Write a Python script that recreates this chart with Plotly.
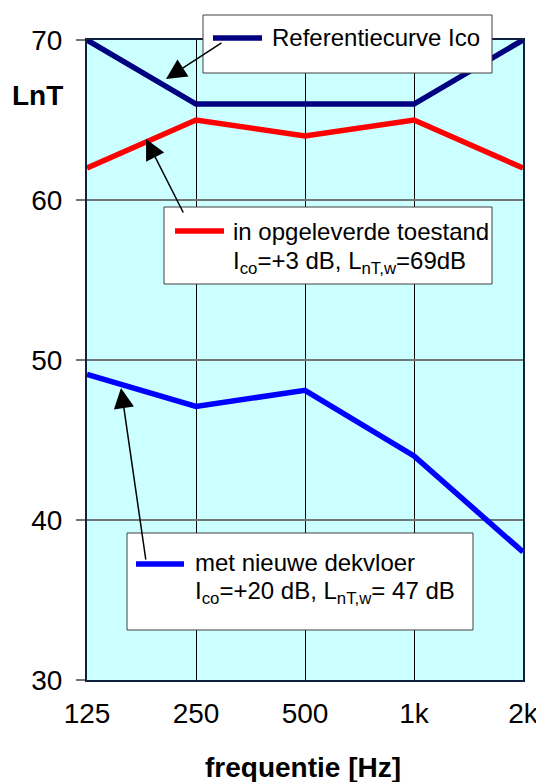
import plotly.graph_objects as go

freq_labels = ["125", "250", "500", "1k", "2k"]
ref_curve = [70, 66, 66, 66, 70]
opgeleverd = [62, 65, 64, 65, 62]
dekvloer = [49.1, 47.1, 48.1, 44.0, 38.0]

series_names = ["Referentiecurve Ico", "in opgeleverde toestand", "met nieuwe dekvloer"]
series_sub = [None,
              "I<sub>co</sub>=+3 dB, L<sub>nT,w</sub>=69dB",
              "I<sub>co</sub>=+20 dB, L<sub>nT,w</sub>= 47 dB"]
colors = ["#000080", "#FF0000", "#0000FF"]

FONT = "Liberation Sans, Arial, sans-serif"

# page has an 8px body margin; figure is placed at (8, 8)
OFF = 8
W, H = 544 - OFF, 782 - OFF
# plot-area in page pixels
L, R, T, B = 87, 523, 40, 680
def px(x):
    return (x - L) / (R - L)
def py(y):
    return (B - y) / (B - T)

fig = go.Figure()
for vals, c in zip([ref_curve, opgeleverd, dekvloer], colors):
    fig.add_trace(go.Scatter(x=freq_labels, y=vals, mode="lines",
                             line=dict(color=c, width=5.5), showlegend=False,
                             hoverinfo="skip"))

shapes = []
annotations = []

boxes = [
    ((203, 492, 15, 73), (213, 262, 38), 270, 38, None),
    ((164, 492, 207, 284), (175, 224, 231), 231, 231, 262),
    ((127, 473, 533, 630), (136, 184, 564), 193, 562, 592),
]
for i, (box, ln, tx, ty1, ty2) in enumerate(boxes):
    shapes.append(dict(type="rect", xref="paper", yref="paper",
                       x0=px(box[0]), x1=px(box[1]), y0=py(box[3]), y1=py(box[2]),
                       fillcolor="white", line=dict(color="#404040", width=1),
                       layer="above"))
    shapes.append(dict(type="line", xref="paper", yref="paper",
                       x0=px(ln[0]), x1=px(ln[1]), y0=py(ln[2]), y1=py(ln[2]),
                       line=dict(color=colors[i], width=5.5), layer="above"))
    annotations.append(dict(text=series_names[i], xref="paper", yref="paper",
                            x=px(tx), y=py(ty1), xanchor="left", yanchor="middle",
                            showarrow=False, font=dict(family=FONT, size=24, color="black")))
    if ty2 is not None:
        annotations.append(dict(text=series_sub[i], xref="paper", yref="paper",
                                x=px(tx), y=py(ty2), xanchor="left", yanchor="middle",
                                showarrow=False, font=dict(family=FONT, size=24, color="black")))

arrows = [((166, 79), (223, 42)), ((146, 139), (184, 214)), ((121, 388), (146, 561))]
for (hx, hy), (tx_, ty_) in arrows:
    annotations.append(dict(x=px(hx), y=py(hy), xref="paper", yref="paper",
                            ax=tx_ - hx, ay=ty_ - hy, text="", showarrow=True,
                            arrowhead=2, arrowsize=2.7, arrowwidth=1.5,
                            arrowcolor="black"))

annotations.append(dict(text="<b>LnT</b>", xref="paper", yref="paper",
                        x=px(37), y=py(95), xanchor="center", yanchor="middle",
                        showarrow=False, font=dict(family=FONT, size=28, color="black")))
annotations.append(dict(text="<b>frequentie [Hz]</b>", xref="paper", yref="paper",
                        x=px(303), y=py(767), xanchor="center", yanchor="middle",
                        showarrow=False, font=dict(family=FONT, size=28, color="black")))

fig.update_layout(
    template="none",
    width=W, height=H,
    margin=dict(l=L - OFF, r=W - (R - OFF), t=T - OFF, b=H - (B - OFF),
                autoexpand=False),
    paper_bgcolor="white", plot_bgcolor="#CCFFFF",
    font=dict(family=FONT, size=28, color="black"),
    shapes=shapes, annotations=annotations,
    xaxis=dict(type="category", range=[0, 4], automargin=False, showgrid=True,
               gridcolor="black", gridwidth=1, showline=True, mirror=True,
               linecolor="#102040", linewidth=2, ticks="", tickfont=dict(size=28),
               zeroline=False, ticklabelstandoff=7),
    yaxis=dict(range=[30, 70], tickvals=[30, 40, 50, 60, 70], automargin=False,
               showgrid=True, gridcolor="#6f7777", gridwidth=1.5, showline=True,
               mirror=True, linecolor="#102040", linewidth=2, ticks="outside",
               ticklen=9, tickcolor="#6f7777", tickwidth=1.5, tickfont=dict(size=28),
               zeroline=False, ticklabelstandoff=8),
)

fig.write_html("out.html")
